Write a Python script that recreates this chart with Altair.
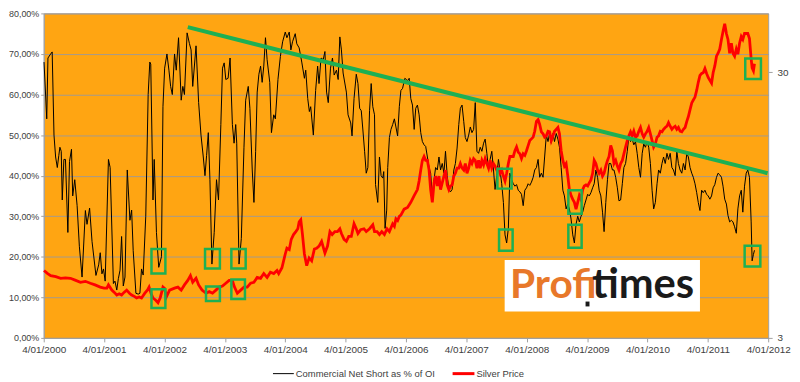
import altair as alt
import pandas as pd

# ---- data (x = years since 4/01/2000) ----
black_t = [0.005,0.05,0.07,0.115,0.14,0.17,0.197,0.225,0.25,0.268,0.29,0.307,0.334,0.36,0.40,0.427,0.46,0.48,0.514,0.553,
0.59,0.635,0.69,0.717,0.76,0.80,0.865,0.91,0.936,0.964,0.99,1.018,1.072,1.10,1.154,1.18,1.21,1.236,1.264,1.29,
1.318,1.346,1.384,1.428,1.456,1.482,1.527,1.565,1.593,1.62,1.647,1.69,1.73,1.757,1.773,1.81,1.83,1.867,1.905,1.95,
1.975,2.003,2.041,2.074,2.102,2.13,2.167,2.195,2.233,2.277,2.304,2.331,2.375,2.413,2.441,2.468,2.523,2.566,2.605,2.643,
2.671,2.698,2.726,2.753,2.786,2.824,2.862,2.895,2.934,2.961,2.989,3.016,3.054,3.087,3.125,3.153,3.18,3.197,3.235,3.273,
3.317,3.345,3.388,3.415,3.454,3.482,3.51,3.536,3.564,3.592,3.618,3.645,3.673,3.70,3.744,3.772,3.81,3.837,3.88,3.92,
3.957,4.001,4.028,4.067,4.094,4.121,4.166,4.192,4.231,4.274,4.318,4.34,4.373,4.40,4.422,4.466,4.504,4.537,4.56,4.593,
4.63,4.658,4.685,4.713,4.75,4.783,4.811,4.849,4.877,4.905,4.931,4.959,5.013,5.041,5.085,5.107,5.14,5.177,5.205,5.233,
5.26,5.288,5.315,5.342,5.369,5.397,5.424,5.451,5.479,5.496,5.533,5.561,5.588,5.616,5.632,5.654,5.681,5.698,5.726,5.752,
5.78,5.808,5.834,5.862,5.89,5.916,5.944,5.982,6.026,6.054,6.08,6.108,6.136,6.162,6.19,6.218,6.245,6.272,6.30,6.327,
6.355,6.383,6.409,6.437,6.465,6.491,6.519,6.547,6.573,6.601,6.629,6.655,6.683,6.711,6.737,6.765,6.793,6.819,6.847,6.875,
6.901,6.929,6.957,6.983,7.011,7.039,7.066,7.093,7.121,7.148,7.176,7.203,7.23,7.258,7.286,7.312,7.34,7.368,7.394,7.422,
7.45,7.476,7.504,7.532,7.558,7.586,7.614,7.641,7.668,7.696,7.722,7.75,7.778,7.805,7.832,7.86,7.887,7.914,7.942,7.969,
7.997,8.024,8.051,8.079,8.107,8.133,8.161,8.189,8.215,8.243,8.271,8.297,8.325,8.353,8.379,8.407,8.435,8.461,8.489,8.517,
8.543,8.571,8.599,8.625,8.653,8.681,8.707,8.735,8.763,8.79,8.817,8.845,8.872,8.90,8.927,8.954,8.982,9.01,9.036,9.064,
9.092,9.118,9.146,9.174,9.20,9.228,9.256,9.282,9.31,9.338,9.364,9.392,9.42,9.446,9.474,9.502,9.528,9.556,9.584,9.61,
9.638,9.666,9.693,9.72,9.748,9.774,9.802,9.83,9.857,9.885,9.913,9.939,9.967,9.995,10.021,10.049,10.077,10.103,10.131,10.159,
10.185,10.213,10.241,10.267,10.295,10.323,10.349,10.377,10.405,10.431,10.459,10.487,10.513,10.541,10.569,10.596,10.624,10.652,10.678,10.706,
10.734,10.76,10.788,10.816,10.842,10.87,10.898,10.924,10.952,10.98,11.006,11.034,11.062,11.088,11.116,11.144,11.17,11.198,11.226,11.252,
11.28,11.308,11.334,11.362,11.39,11.416,11.444,11.472,11.498,11.526,11.554,11.58,11.608,11.636,11.662,11.69,11.718,11.734,11.756,11.773]
black_v = [68,54,69,70,70.5,50,44.6,42,45,47,46,34,44,44,26,43.5,46.5,35,39,32.6,
22.6,15,31.4,28,32,23.8,15.4,18,21,15.8,17,14,44,42,13.4,14,11.8,14.6,16.7,25,
12.8,15,41.4,29,31.5,21.5,11,10.8,11,17,15.5,30,60,68,67.5,34,44,26,17.4,20,
57,66.5,70,66,62,60,70,66,74,58.6,62,60,75.2,72.6,71,62,72,58,50,44.6,
40,45,50.6,39,18.2,26,39,34,52.6,66.5,67.8,63.7,64,69,52.6,48,52.6,48,18.2,24.5,
47,58.6,62,56.6,41.4,33.4,46,60.6,65,67,63,67,74,68.6,63,50.6,55,54,63.7,69.4,
73,75.4,74,75.4,71,73,75,72.5,71.5,68,64,66,59,55.8,57,50,61,67,62.7,69,
68.6,70.6,60.6,58,66.5,69,64.8,66,63.7,74.2,71,65.3,60.6,55,53,49.8,59,65,62.7,56.6,
56,51,46,40.6,42,56,62.7,57,55,37.8,33.4,44.6,40,39.4,41,27,31.5,42,49.4,51.4,
52.6,54,52,49.8,57,61,61.5,64,63.4,64,59,57.4,51.4,56.6,57.4,55,50.6,48.4,47.6,47.2,
44.6,42,40.6,35,39,42,41.4,44.6,41.4,43,40.6,46,40,36.6,36,36.6,41.4,43,46.8,52.6,
56.6,57.4,53.4,49.4,48.4,50,52,50.6,51.4,58,46,45.5,47,46,48,49,45.5,41.4,44,46,
41.4,36.6,40,44,41.4,38,33.4,25.4,23.4,27,40.6,39,38,37.4,37.8,36.4,36,35.4,32.6,36.4,
37,38,37.6,38.4,39.6,41.4,42,44,39.6,40.6,39.6,44.6,50,48.4,50.4,48,50.4,48.4,50.4,49,
47,42,36.4,35,31.8,33,31.8,29.3,25.4,23.4,28,30,28.6,30,31,32.6,34,35.4,35,35.8,
37,38,41.4,39.6,36.4,35,31,26.2,33.4,39,43,43,41.4,41.4,39.6,37,33.8,34,38,42,
43,46,49.8,48.4,49,47.6,48.4,45.5,42,39.6,45.5,47.8,47,48.4,47,43,36.4,31.8,33.4,38,
41.4,40.6,43,44.6,43,45.5,44,45.5,42,41.4,40,46,43,41.4,40.6,43,41.4,45.5,44.6,42,
40.6,39.6,38,35.8,33.4,31.4,36.4,35.8,36.4,35.4,35,34.2,35,37,37.8,39.6,40.6,40.2,39.6,37.4,
34.2,33,30.2,28.6,29,28.6,27.4,25.8,31.8,35,36.4,31,37.4,40.6,41.4,39.6,28.6,19,20.6,21.6]

red_t = [0.005,0.06,0.115,0.2,0.28,0.36,0.443,0.52,0.608,0.69,0.772,0.85,0.936,1.0,1.046,1.072,1.128,1.17,1.21,1.25,
1.29,1.33,1.374,1.42,1.456,1.5,1.538,1.58,1.62,1.675,1.72,1.745,1.78,1.81,1.86,1.893,1.93,1.95,1.975,2.003,
2.031,2.085,2.167,2.222,2.277,2.331,2.386,2.43,2.468,2.523,2.566,2.622,2.688,2.742,2.796,2.852,2.906,2.961,3.016,3.071,
3.125,3.153,3.207,3.263,3.317,3.371,3.427,3.481,3.536,3.592,3.645,3.70,3.755,3.81,3.864,3.892,3.946,4.001,4.028,4.067,
4.10,4.138,4.176,4.209,4.231,4.258,4.286,4.318,4.356,4.396,4.438,4.483,4.52,4.56,4.603,4.658,4.701,4.741,4.778,4.823,
4.865,4.905,4.931,4.975,5.013,5.052,5.095,5.14,5.177,5.205,5.25,5.304,5.342,5.397,5.451,5.479,5.522,5.561,5.599,5.643,
5.686,5.726,5.78,5.808,5.834,5.862,5.89,5.916,5.97,6.026,6.08,6.136,6.19,6.218,6.245,6.272,6.30,6.327,6.355,6.383,
6.409,6.437,6.465,6.491,6.519,6.547,6.573,6.601,6.629,6.655,6.683,6.711,6.737,6.765,6.793,6.819,6.847,6.875,6.901,6.929,
6.957,6.983,7.011,7.039,7.066,7.093,7.121,7.148,7.176,7.203,7.23,7.258,7.286,7.312,7.34,7.368,7.394,7.422,7.45,7.476,
7.504,7.532,7.558,7.586,7.614,7.641,7.668,7.696,7.722,7.75,7.778,7.805,7.832,7.86,7.887,7.914,7.942,7.969,7.997,8.024,
8.051,8.079,8.107,8.133,8.161,8.189,8.215,8.243,8.271,8.297,8.325,8.353,8.379,8.407,8.435,8.461,8.489,8.517,8.543,8.571,
8.599,8.625,8.653,8.681,8.707,8.735,8.763,8.79,8.817,8.845,8.872,8.90,8.927,8.954,8.982,9.01,9.036,9.064,9.092,9.118,
9.146,9.174,9.20,9.228,9.256,9.282,9.31,9.338,9.364,9.392,9.42,9.446,9.474,9.502,9.528,9.556,9.584,9.61,9.638,9.666,
9.693,9.72,9.748,9.774,9.802,9.83,9.857,9.885,9.913,9.939,9.967,9.995,10.021,10.049,10.077,10.103,10.131,10.159,10.185,10.213,
10.241,10.267,10.295,10.323,10.349,10.377,10.405,10.431,10.459,10.487,10.513,10.541,10.569,10.596,10.624,10.652,10.678,10.706,10.734,10.76,
10.788,10.816,10.842,10.87,10.898,10.924,10.952,10.98,11.006,11.034,11.062,11.088,11.116,11.144,11.17,11.198,11.226,11.252,11.28,11.308,
11.334,11.362,11.39,11.416,11.444,11.472,11.498,11.526,11.554,11.58,11.608,11.636,11.662,11.69,11.718,11.734,11.756,11.773]
red_v = [5.38,5.25,5.15,5.1,5.03,5.05,5.03,4.95,4.86,4.9,4.82,4.75,4.66,4.62,4.62,4.75,4.54,4.45,4.35,4.4,
4.35,4.45,4.54,4.42,4.35,4.3,4.24,4.28,4.24,4.42,4.55,4.66,4.4,4.24,4.15,4.07,4.25,4.42,4.66,4.6,
4.28,4.54,4.62,4.66,4.54,4.75,4.94,5.15,4.86,5.03,4.75,4.54,4.42,4.48,4.42,4.54,4.66,4.7,4.82,4.94,
4.94,4.7,4.42,4.54,4.66,4.66,4.82,4.86,5.07,5.03,5.24,5.07,5.3,5.24,5.38,5.24,5.51,6.21,6.53,6.45,
7.05,7.35,7.54,7.73,8.2,8.35,7.35,6.21,5.61,6.0,5.85,6.48,6.53,6.65,6.93,6.26,6.65,7.54,7.35,7.54,
7.54,7.73,7.42,7.05,6.93,7.23,7.23,8.07,7.73,7.42,7.67,7.73,7.54,7.73,8.0,7.54,7.54,7.35,7.54,7.35,
7.73,7.54,8.07,7.9,8.42,8.3,8.6,8.7,9.16,9.3,9.72,10.3,10.85,11.7,12.85,13.98,14.46,13.98,13.98,12.85,
10.85,9.72,11.5,12.2,11.2,12.2,10.85,11.5,12.2,12.85,11.3,10.85,11.2,11.3,12.2,12.5,13.07,13.07,13.6,13.07,
12.85,13.6,12.5,13.07,13.98,13.6,14.2,13.98,13.07,13.98,13.07,13.98,13.45,14.2,13.6,13.07,13.98,13.07,13.6,13.3,
12.85,13.07,12.5,12.85,12.2,11.7,12.5,13.6,14.46,14.46,14.46,15.2,15.7,15.0,14.8,14.2,14.8,14.6,15.2,15.9,
16.6,16.85,17.1,18.0,19.6,19.9,19.1,17.9,17.6,17.1,17.3,18.0,17.9,16.6,17.3,18.0,18.3,18.6,17.6,15.2,
13.98,13.3,13.6,12.2,10.85,10.3,9.97,9.72,9.16,9.72,10.3,9.97,10.85,11.2,11.3,11.2,11.5,11.8,12.5,13.98,
13.6,12.85,12.5,12.85,12.2,12.5,13.3,13.98,14.46,15.9,15.2,13.6,13.98,13.3,12.85,13.6,13.98,14.8,15.7,16.6,
17.3,17.9,17.3,18.0,17.1,17.3,18.0,18.6,17.6,17.1,17.6,18.0,18.6,17.6,16.6,15.7,16.15,17.1,17.3,18.0,
17.9,18.3,18.6,18.8,19.4,18.8,18.3,18.6,18.8,18.3,18.6,18.0,17.9,18.3,18.6,19.6,20.45,21.7,23.0,23.6,
24.2,25.7,27.5,29.2,29.7,29.9,31.0,29.7,28.7,28.0,27.3,29.9,31.7,34.5,35.4,36.7,39.9,42.7,45.7,42.0,
39.9,35.4,38.6,35.4,34.5,36.7,35.1,38.6,40.9,39.9,42.0,42.0,42.0,40.2,33.7,31.2,30.4,32.3]

trend_t = [2.386, 11.99]
trend_v = [76.6, 40.6]

box_t1 = [1.785, 2.672, 3.108, 1.785, 2.688, 3.108, 7.542, 7.515, 8.69, 8.69, 11.61, 11.62]
box_t2 = [2.015, 2.918, 3.345, 2.015, 2.918, 3.333, 7.767, 7.75, 8.91, 8.91, 11.87, 11.88]
box_v1 = [15.9, 17.1, 17.1, 7.4, 9.1, 9.6, 21.5, 36.8, 30.6, 22.2, 17.6, 63.8]
box_v2 = [21.9, 21.9, 21.9, 12.0, 12.7, 14.4, 26.7, 41.7, 36.4, 27.9, 22.7, 68.9]

x_tick_labels = ["4/01/2000", "4/01/2001", "4/01/2002", "4/01/2003", "4/01/2004", "4/01/2005", "4/01/2006",
                 "4/01/2007", "4/01/2008", "4/01/2009", "4/01/2010", "4/01/2011", "4/01/2012"]
y_left_ticks = [0, 10, 20, 30, 40, 50, 60, 70, 80]
y_right_ticks = [3, 30]
legend_labels = ["Commercial Net Short as % of OI", "Silver Price"]
logo_parts = ["Profi", "times"]

# ---- styling ----
ORANGE = "#FFA512"
GRID = "#a49a8e"
AXIS = "#a0a0a0"
LABEL = "#404040"
GREEN = "#1DB054"
FONT = "Liberation Sans"

black_df = pd.DataFrame({"t": black_t, "v": black_v})
red_df = pd.DataFrame({"t": red_t, "p": red_v})
trend_df = pd.DataFrame({"t": trend_t, "v": trend_v})
box_df = pd.DataFrame({"t": box_t1, "t2": box_t2, "v1": box_v1, "v2": box_v2})

xlab_expr = "[" + ",".join("'%s'" % s for s in x_tick_labels) + "][round(datum.value)]"
xscale = alt.Scale(domain=[0, 12], nice=False, zero=False)
xaxis = alt.Axis(values=list(range(13)), labelExpr=xlab_expr, title=None, grid=False,
                 tickSize=4, tickColor=AXIS, domainColor=AXIS, labelFont=FONT, labelFontSize=10,
                 labelColor=LABEL, labelPadding=3, labelFlush=False, labelOverlap=False)
X = alt.X("t:Q", scale=xscale, axis=xaxis)
yscale = alt.Scale(domain=[0, 80], nice=False, zero=True)

black = alt.Chart(black_df).mark_line(color="#000000", strokeWidth=1).encode(
    x=X,
    y=alt.Y("v:Q", scale=yscale, axis=alt.Axis(
        orient="left", values=y_left_ticks, title=None, grid=True, gridColor=GRID, gridWidth=1,
        labelExpr="replace(format(datum.value, '.2f'), '.', ',') + '%'",
        tickSize=3, tickColor=AXIS, domainColor=AXIS, labelFont=FONT, labelFontSize=9,
        labelColor=LABEL, labelPadding=2)),
)

red = alt.Chart(red_df).mark_line(color="#FF0000", strokeWidth=2.8).encode(
    x=X,
    y=alt.Y("p:Q", scale=alt.Scale(type="log", domain=[3, 50], nice=False), axis=alt.Axis(
        orient="right", values=y_right_ticks, format="d", title=None, grid=False,
        tickSize=4, tickColor=AXIS, domain=False, labelFont=FONT, labelFontSize=10,
        labelColor=LABEL, labelPadding=5)),
)

trend = alt.Chart(trend_df).mark_line(color=GREEN, strokeWidth=4).encode(
    x=X,
    y=alt.Y("v:Q", scale=yscale, axis=None),
)

boxes = alt.Chart(box_df).mark_rect(filled=False, stroke=GREEN, strokeWidth=2.5).encode(
    x=X, x2="t2:Q",
    y=alt.Y("v1:Q", scale=yscale, axis=None), y2="v2:Q",
)

logo_box_df = pd.DataFrame({"t": [7.635], "t2": [10.87], "v1": [6.5], "v2": [19.2]})
logo_box = alt.Chart(logo_box_df).mark_rect(color="white").encode(
    x=X, x2="t2:Q",
    y=alt.Y("v1:Q", scale=yscale, axis=None), y2="v2:Q",
)
logo_a_df = pd.DataFrame({"t": [9.16], "v": [9.85], "s": [logo_parts[0]]})
logo_b_df = pd.DataFrame({"t": [9.08], "v": [9.85], "s": [logo_parts[1]]})
logo_a = alt.Chart(logo_a_df).mark_text(align="right", baseline="alphabetic", font="Lato",
                                        fontWeight="bold", fontSize=41, color="#E8782A").encode(
    x=X, y=alt.Y("v:Q", scale=yscale, axis=None), text="s:N")
logo_b = alt.Chart(logo_b_df).mark_text(align="left", baseline="alphabetic", font="Lato",
                                        fontWeight="bold", fontSize=42, color="#1a1a1a").encode(
    x=X, y=alt.Y("v:Q", scale=yscale, axis=None), text="s:N")
logo_dot_df = pd.DataFrame({"t": [8.975], "t2": [9.04], "v1": [7.76], "v2": [8.96]})
logo_dot = alt.Chart(logo_dot_df).mark_rect(color="#1a1a1a").encode(
    x=X, x2="t2:Q",
    y=alt.Y("v1:Q", scale=yscale, axis=None), y2="v2:Q",
)

# ---- legend (drawn below the plot) ----
one = pd.DataFrame({"a": [0]})
LEG_Y = 363
leg_black = alt.Chart(one).mark_rule(color="#000000", strokeWidth=1).encode(
    x=alt.value(231), x2=alt.value(252), y=alt.value(LEG_Y))
leg_red = alt.Chart(one).mark_rule(color="#FF0000", strokeWidth=3).encode(
    x=alt.value(412), x2=alt.value(434), y=alt.value(LEG_Y))
leg_t1 = alt.Chart(one).mark_text(align="left", baseline="middle", font=FONT, fontSize=9.5,
                                  color=LABEL, text=legend_labels[0]).encode(
    x=alt.value(254), y=alt.value(LEG_Y))
leg_t2 = alt.Chart(one).mark_text(align="left", baseline="middle", font=FONT, fontSize=9.5,
                                  color=LABEL, text=legend_labels[1]).encode(
    x=alt.value(436), y=alt.value(LEG_Y))

chart = alt.layer(
    black, red, trend, boxes, logo_box, logo_a, logo_b, logo_dot,
    leg_black, leg_red, leg_t1, leg_t2
).resolve_scale(y="independent").properties(
    width=730, height=327,
    autosize=alt.AutoSizeParams(type="none"),
    padding={"left": 36, "top": 4, "right": 24, "bottom": 43},
    background="white",
).configure_view(fill=ORANGE, stroke=AXIS, strokeWidth=1)

chart.save("out.html", embed_options={"renderer": "svg", "actions": False})
